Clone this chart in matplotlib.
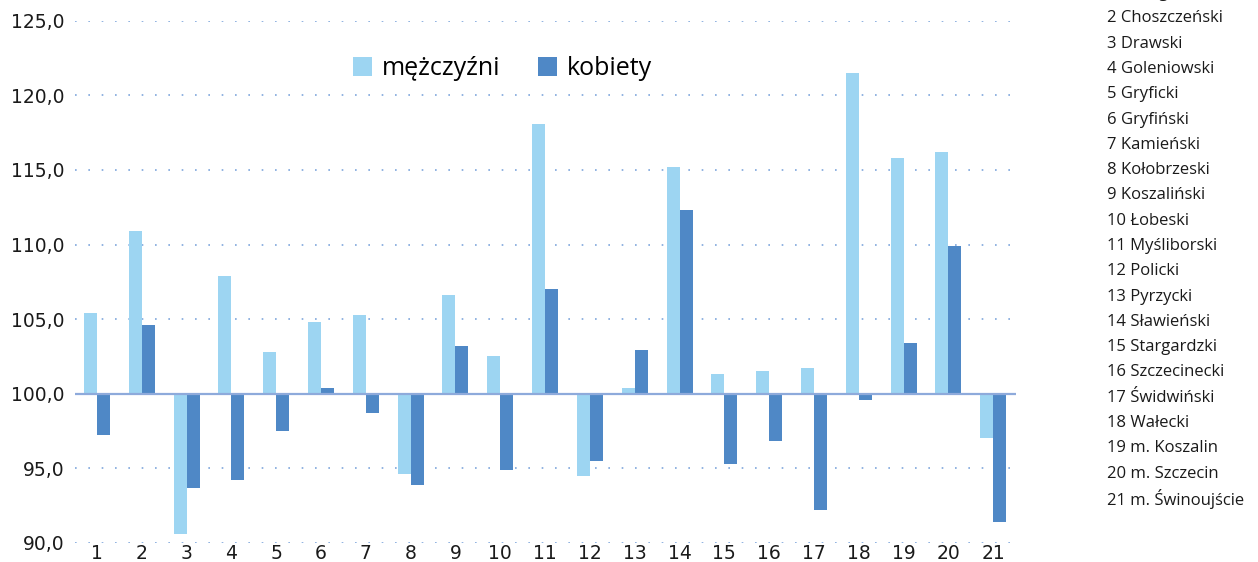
import matplotlib
matplotlib.use("Agg")
import matplotlib.pyplot as plt
import numpy as np

# index values (100 = base)
powiaty = ["Białogardzki", "Choszczeński", "Drawski", "Goleniowski", "Gryficki",
           "Gryfiński", "Kamieński", "Kołobrzeski", "Koszaliński", "Łobeski",
           "Myśliborski", "Policki", "Pyrzycki", "Sławieński", "Stargardzki",
           "Szczecinecki", "Świdwiński", "Wałecki", "m. Koszalin", "m. Szczecin",
           "m. Świnoujście"]
mezczyzni = [105.4, 110.9, 90.6, 107.9, 102.8, 104.8, 105.3, 94.6, 106.6, 102.5,
             118.1, 94.5, 100.4, 115.2, 101.3, 101.5, 101.7, 121.5, 115.8, 116.2, 97.0]
kobiety = [97.2, 104.6, 93.7, 94.2, 97.5, 100.4, 98.7, 93.9, 103.2, 94.9,
           107.0, 95.5, 102.9, 112.3, 95.3, 96.8, 92.2, 99.6, 103.4, 109.9, 91.4]
yticks = [90, 95, 100, 105, 110, 115, 120, 125]

BASE = 100.0
C_MEN = "#9dd5f2"
C_WOM = "#4f88c6"

fig = plt.figure(figsize=(12.58, 5.62), dpi=100)
ax = fig.add_axes([0.0593, 0.034, 0.748, 0.929])

x = np.arange(1, len(powiaty) + 1)
w = 0.29
m = np.array(mezczyzni) - BASE
k = np.array(kobiety) - BASE
ax.bar(x - w / 2, m, w, bottom=BASE, color=C_MEN, label="mężczyźni", zorder=2)
ax.bar(x + w / 2, k, w, bottom=BASE, color=C_WOM, label="kobiety", zorder=2)

ax.set_xlim(0.5, 21.5)
ax.set_ylim(90, 125)
ax.set_yticks(yticks)
ax.set_yticklabels([f"{v:.1f}".replace(".", ",") for v in yticks])
ax.set_xticks(x)
ax.set_xticklabels([str(i) for i in x])
ax.tick_params(length=0, labelsize=13.5, labelcolor="#1a1a1a")
ax.tick_params(axis="y", pad=7)
ax.tick_params(axis="x", pad=1)

for v in yticks:
    if v == BASE:
        continue
    ax.axhline(v, color="#7ea6dc", lw=1.2, ls=(0, (1, 7)), zorder=1)
ax.axhline(BASE, color="#8eaadb", lw=1.6, zorder=3)
for s in ax.spines.values():
    s.set_visible(False)

ax.legend(loc="upper center", bbox_to_anchor=(0.455, 0.975), ncol=2, frameon=False,
          prop={"family": "Open Sans", "size": 18}, handlelength=0.75,
          handleheight=0.75, handletextpad=0.4, columnspacing=1.5)

# list of names on the right (first line sits at the top edge, as in the source)
for i, name in enumerate(powiaty):
    fig.text(1107 / 1258, 1 - (-7 + 25.3 * i) / 562, f"{i + 1} {name}",
             family="Open Sans", fontsize=12, color="#1a1a1a", va="center")

fig.savefig("out.png", dpi=100)
